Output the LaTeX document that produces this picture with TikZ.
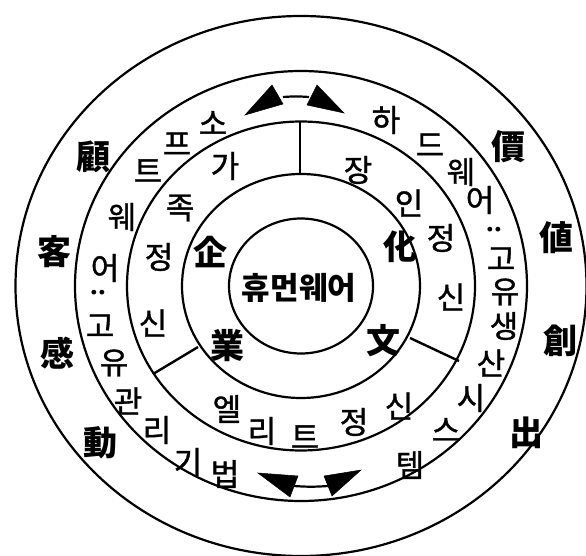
\documentclass[tikz,border=0pt]{standalone}
\usepackage{fontspec}
\setmainfont{Noto Sans CJK KR}
\newfontfamily\krmid[FakeBold=1.2]{Noto Sans CJK KR}
\begin{document}
\begin{tikzpicture}[x=1pt,y=-1pt,
  ring/.style={line width=2.2pt},
  divider/.style={line width=2.4pt},
  hj/.style={font=\fontsize{34}{34}\selectfont\bfseries, inner sep=0pt},
  kt/.style={font=\krmid\fontsize{31}{31}\selectfont, inner sep=0pt},
  core/.style={font=\fontsize{31}{31}\selectfont\bfseries, inner sep=0pt},
  colon/.style={font=\fontsize{22}{22}\selectfont\bfseries, inner sep=0pt, rotate=90},
  head/.style={fill=black, draw=black, line width=0.5pt, line join=miter}]
\useasboundingbox (0,0) rectangle (586,556);
% rings
\coordinate (c) at (301,286);
\draw[ring] (c) ellipse [x radius=72pt, y radius=67.5pt];
\draw[ring] (c) ellipse [x radius=119pt, y radius=112pt];
\draw[ring] (c) ellipse [x radius=174pt, y radius=164.5pt];
\draw[ring] (c) ellipse [x radius=226pt, y radius=215pt];
\draw[ring] (c) ellipse [x radius=285.5pt, y radius=270pt];
% dividers
\coordinate (dt1) at (300,122);
\coordinate (dt2) at (300,174);
\coordinate (dl1) at (153,374);
\coordinate (dl2) at (198,347);
\coordinate (dr1) at (410,338);
\coordinate (dr2) at (459,361);
\draw[line width=1.6pt] (dt1) -- (dt2);
\draw[divider] (dl1) -- (dl2);
\draw[divider] (dr1) -- (dr2);
% top double arrow
\coordinate (ta1) at (283,97);
\coordinate (ta2) at (309,97);
\draw[line width=2.2pt] (ta1) to[bend left=4] (ta2);
\fill[head] (272,85) -- (245,115) -- (283,104) -- cycle;
\fill[head] (317,85) -- (344,113) -- (307,105) -- cycle;
% bottom double arrow
\coordinate (ba1) at (294,486);
\coordinate (ba2) at (328,486);
\draw[line width=2.2pt] (ba1) to[bend right=4] (ba2);
\fill[head] (258,473) -- (298,476) -- (290,497) -- cycle;
\fill[head] (324,476) -- (361,470) -- (332,496) -- cycle;
% centre
\node[core] (hw) at (299,288) {휴먼웨어};
% ring 2
\node[hj] (k1) at (210,252) {企};
\node[hj] (k2) at (227,346) {業};
\node[hj] (k3) at (400,247) {化};
\node[hj] (k4) at (383,341) {文};
% ring 3
\node[kt] (a1) at (225,166) {가};
\node[kt] (a2) at (180,208) {족};
\node[kt] (a3) at (159,257) {정};
\node[kt] (a4) at (153,323) {신};
\node[kt] (b1) at (358,170) {장};
\node[kt] (b2) at (409,203) {인};
\node[kt] (b3) at (441,238) {정};
\node[kt] (b4) at (451,297) {신};
\node[kt] (e1) at (227,409) {엘};
\node[kt] (e2) at (262,431) {리};
\node[kt] (e3) at (305,437) {트};
\node[kt] (e4) at (354,422) {정};
\node[kt] (e5) at (399,406) {신};
% ring 4 left
\node[kt] (s1) at (213,123) {소};
\node[kt] (s2) at (177,144) {프};
\node[kt] (s3) at (148,171) {트};
\node[kt] (s4) at (122,217) {웨};
\node[kt] (s5) at (105,268) {어};
\node[colon] (s6) at (98,293) {:};
\node[kt] (s7) at (100,326) {고};
\node[kt] (s8) at (114,363) {유};
\node[kt] (s9) at (128,401) {관};
\node[kt] (s10) at (157,430) {리};
\node[kt] (s11) at (188,462) {기};
\node[kt] (s12) at (225,474) {법};
% ring 4 right
\node[kt] (h1) at (386,120) {하};
\node[kt] (h2) at (430,145) {드};
\node[kt] (h3) at (461,172) {웨};
\node[kt] (h4) at (480,200) {어};
\node[colon] (h5) at (494,230) {:};
\node[kt] (h6) at (501,259) {고};
\node[kt] (h7) at (505,292) {유};
\node[kt] (h8) at (504,326) {생};
\node[kt] (h9) at (491,363) {산};
\node[kt] (h10) at (471,398) {시};
\node[kt] (h11) at (446,430) {스};
\node[kt] (h12) at (410,465) {템};
% outer ring
\node[hj] (o1) at (93,157) {顧};
\node[hj] (o2) at (54,252) {客};
\node[hj] (o3) at (57,353) {感};
\node[hj] (o4) at (100,443) {動};
\node[hj] (o5) at (508,147) {價};
\node[hj] (o6) at (556,238) {値};
\node[hj] (o7) at (560,341) {創};
\node[hj] (o8) at (526,433) {出};
\end{tikzpicture}
\end{document}
